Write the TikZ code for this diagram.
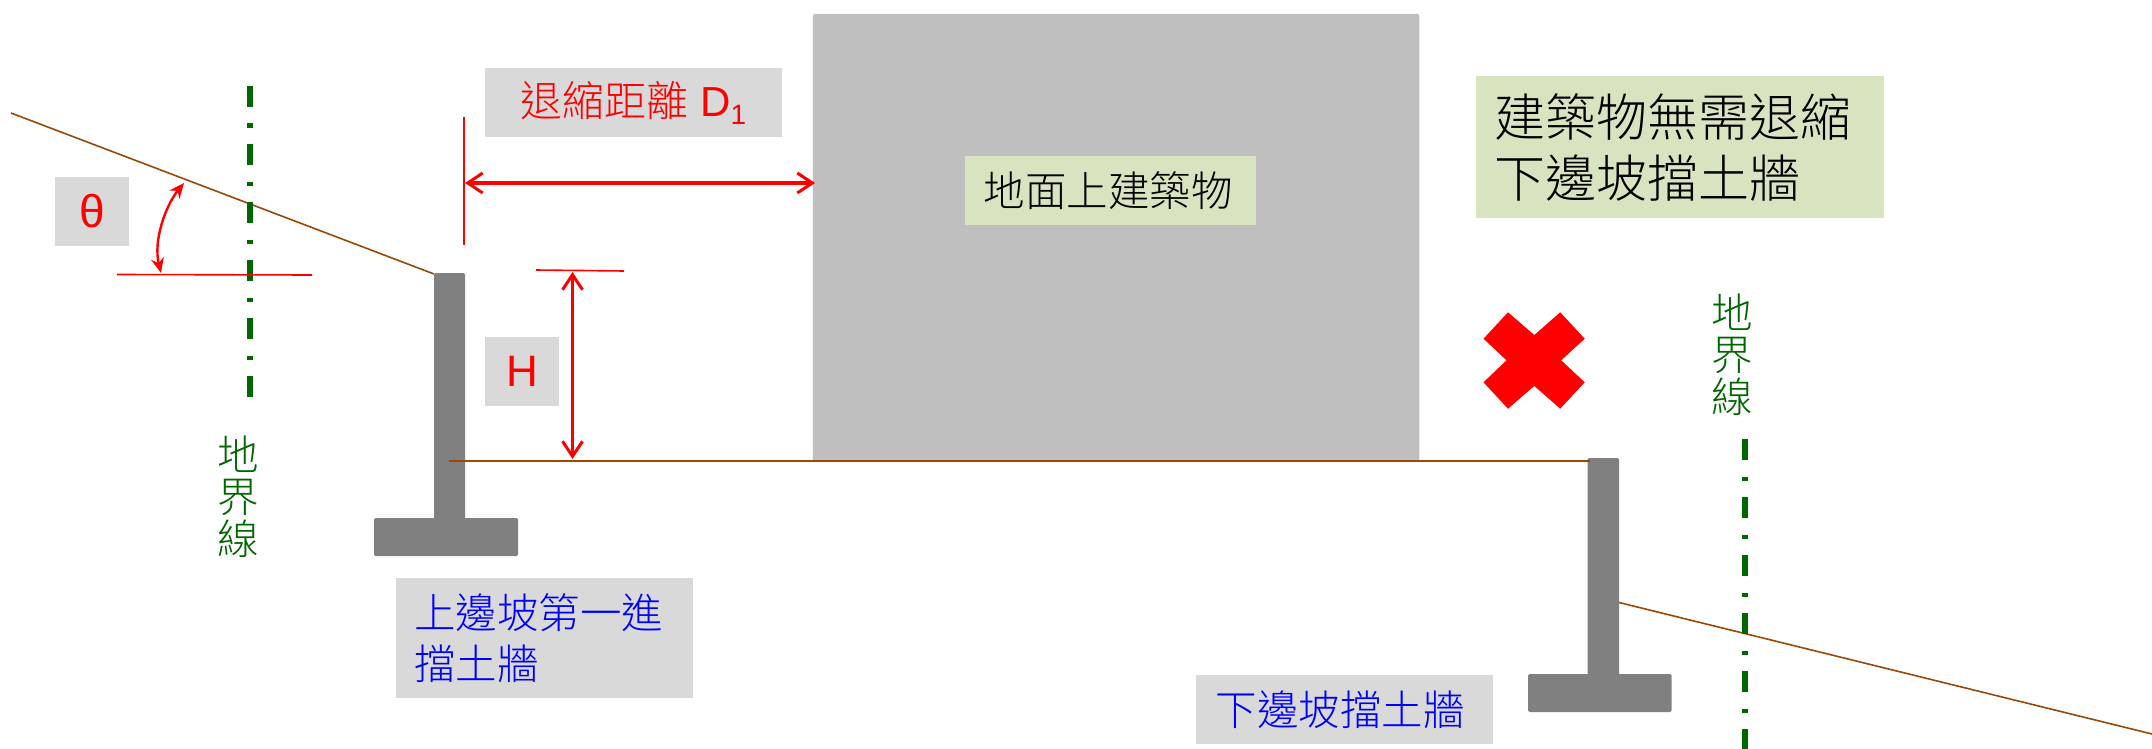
\documentclass[tikz,border=0pt]{standalone}
\usepackage{fontspec}
\setmainfont{Liberation Sans}
\newfontfamily\cjk{Noto Sans CJK TC Light}
\usetikzlibrary{arrows.meta}
\definecolor{brownline}{HTML}{984807}
\definecolor{bound}{HTML}{006600}
\definecolor{lab}{HTML}{D9D9D9}
\definecolor{bld}{HTML}{BFBFBF}
\definecolor{wall}{HTML}{808080}
\definecolor{lgreen}{HTML}{D8E3BF}
\tikzset{
  x=1pt,y=-1pt,
  box/.style={inner sep=0pt,outer sep=0pt,anchor=center},
  fs/.style={font=\fontsize{41.5}{51}\selectfont\cjk},
  wallpart/.style={fill=wall,rounded corners=1.5pt},
  slope/.style={draw=brownline,line width=1.6pt},
  ground/.style={draw=brownline,line width=2pt},
  boundary/.style={draw=bound,line width=5.7pt,dash pattern=on 21pt off 16.5pt on 4.5pt off 16pt},
  thinred/.style={draw=red,line width=1.6pt},
  dimarrow/.style={draw=red,{Straight Barb[length=15pt,width=20pt,line width=3pt]}-{Straight Barb[length=15pt,width=20pt,line width=3pt]}},
  anglearrow/.style={draw=red,line width=2.4pt,{Stealth[length=15pt,width=13pt]}-{Stealth[length=15pt,width=13pt]}},
}
\begin{document}
\begin{tikzpicture}
\useasboundingbox (0,0) rectangle (2152,749);
% coordinates
\coordinate (s1a) at (11,113); \coordinate (s1b) at (434,274);
\coordinate (b1a) at (250,86); \coordinate (b1b) at (250,397);
\coordinate (b2a) at (1745,439); \coordinate (b2b) at (1745,749);
\coordinate (ga) at (449,461); \coordinate (gb) at (1590,461);
\coordinate (s2a) at (1617,602); \coordinate (s2b) at (2152,734);
\coordinate (dv1) at (464,117); \coordinate (dv2) at (464,245);
\coordinate (d1a) at (465,183); \coordinate (d1b) at (815,183);
\coordinate (ha) at (572.5,272); \coordinate (hb) at (572.5,459);
\coordinate (t1a) at (536,270); \coordinate (t1b) at (624,271);
\coordinate (t2a) at (117,274.5); \coordinate (t2b) at (312,275);
\coordinate (aa) at (161,273); \coordinate (ab) at (184,183);
% building
\node[box,fill=bld,rounded corners=1.5pt,minimum width=606.5pt,minimum height=447pt] (bldg) at (1116,237.5) {};
% slopes
\draw[slope] (s1a) -- (s1b);
\draw[slope] (s2a) -- (s2b);
% boundaries
\draw[boundary] (b1a) -- (b1b);
\draw[boundary] (b2a) -- (b2b);
% walls
\node[box,wallpart,minimum width=31pt,minimum height=246pt] (w1) at (449.5,396) {};
\node[box,wallpart,minimum width=144pt,minimum height=38pt] (f1) at (446,537) {};
\node[box,wallpart,minimum width=31.5pt,minimum height=217pt] (w2) at (1603.25,566.5) {};
\node[box,wallpart,minimum width=143.5pt,minimum height=38pt] (f2) at (1599.75,693) {};
% ground lies over the first wall
\draw[ground] (ga) -- (gb);
% red dims
\draw[thinred] (dv1) -- (dv2);
\draw[thinred] (t1a) -- (t1b);
\draw[thinred] (t2a) -- (t2b);
\draw[dimarrow,line width=4pt] (d1a) -- (d1b);
\draw[dimarrow,line width=3pt] (ha) -- (hb);
\draw[anglearrow] (aa) .. controls (153,240) and (166,205) .. (ab);
% X
\fill[red] (1483.5,338.7) -- (1508,312.3) -- (1534.3,335) -- (1560.2,312.3) -- (1584.7,338.7) -- (1561.2,360.3) -- (1584.7,382.3) -- (1560.2,408.7) -- (1534.3,386) -- (1508,408.7) -- (1483.5,382.3) -- (1506.5,360.3) -- cycle;
% labels
\node[box,fill=lab,minimum width=74pt,minimum height=69pt,text=red,font=\fontsize{46}{51}\selectfont] (theta) at (92,211.5) {θ};
\node[box,fill=lab,minimum width=297pt,minimum height=69pt,text=red,font=\fontsize{42}{51}\selectfont] (dlabel) at (633.5,102.5) {{\cjk 退縮距離} D\raisebox{-8pt}{\fontsize{28}{28}\selectfont 1}};
\node[box,fill=lab,minimum width=74pt,minimum height=69pt,text=red,font=\fontsize{44}{51}\selectfont] (hlabel) at (522,371.5) {H};
\node[box,fill=lgreen,minimum width=291pt,minimum height=69pt,fs] (blabel) at (1110.5,190.5) {地面上建築物\kern5pt};
\node[box,fill=lgreen,minimum width=408pt,minimum height=142pt,font=\fontsize{51}{61}\selectfont\cjk,align=left,text width=371pt] (nolabel) at (1680,147) {\raisebox{3pt}{建築物無需退縮}\\\raisebox{3pt}{下邊坡擋土牆}};
\node[box,fill=lab,minimum width=297pt,minimum height=120pt,fs,text=blue,align=left,text width=261pt] (up) at (544.5,638) {上邊坡第一進\\擋土牆};
\node[box,fill=lab,minimum width=297pt,minimum height=69pt,fs,text=blue] (down) at (1344.5,709.5) {下邊坡擋土牆\kern9pt};
\node[box,fs,text=bound,align=center] (bl1) at (238,497) {地\\[-9pt]界\\[-9pt]線};
\node[box,fs,text=bound,align=center] (bl2) at (1732,355) {地\\[-9pt]界\\[-9pt]線};
\end{tikzpicture}
\end{document}
